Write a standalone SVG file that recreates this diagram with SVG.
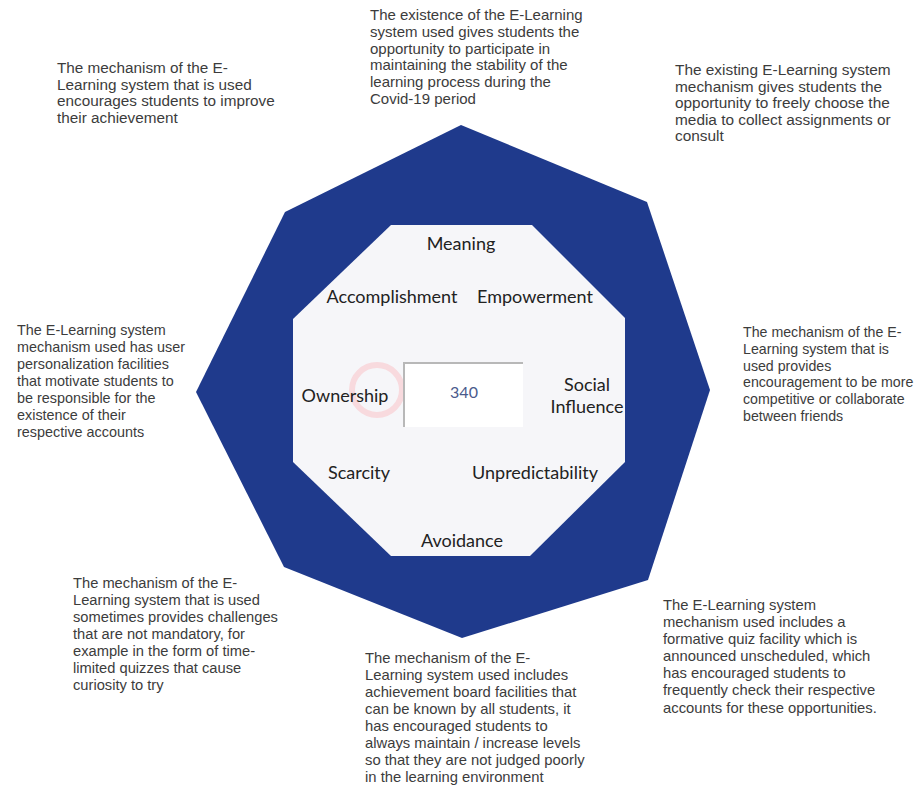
<svg xmlns="http://www.w3.org/2000/svg" width="919" height="786" viewBox="0 0 919 786">
<style>
.note{font-family:"Liberation Sans",Arial,sans-serif;font-size:15px;fill:#3c3c3c}
.lbl{font-family:Lato,"Open Sans",sans-serif;font-size:18px;fill:#222;text-anchor:middle}
.num{font-family:Lato,"Open Sans",sans-serif;font-size:16px;fill:#4a5a8c;text-anchor:middle}
</style>
<rect width="919" height="786" fill="#ffffff"/>
<g id="octagon-outer">
<polygon points="461,125 647,202 710,390 648,580 462,638 284,567 196,392 285,212" fill="#1f3a8c"/>
</g>
<g id="octagon-inner">
<polygon points="391,225 532,225 625,318 625,462 530,556 391,556 293,462 293,319" fill="#f6f6f9"/>
<circle cx="377" cy="390" r="25" fill="none" stroke="#f8dade" stroke-width="6"/>
</g>
<g id="labels">
<text class="lbl" x="461" y="250">Meaning</text>
<text class="lbl" x="392" y="303">Accomplishment</text>
<text class="lbl" x="535" y="303">Empowerment</text>
<text class="lbl" x="345" y="402">Ownership</text>
<text class="lbl" x="587" y="391">Social</text>
<text class="lbl" x="587" y="413">Influence</text>
<text class="lbl" x="359" y="479">Scarcity</text>
<text class="lbl" x="535" y="479">Unpredictability</text>
<text class="lbl" x="462" y="547">Avoidance</text>
</g>
<g id="center-box">
<rect x="403" y="362" width="120" height="65" fill="#ffffff"/>
<path d="M404,427 V363 H523" fill="none" stroke="#b8b8b8" stroke-width="2"/>
<text class="num" x="464" y="398">340</text>
</g>
<g id="note-top-left" style="font-size:15.3px">
<text class="note" x="57" y="73" style="font-size:15.3px">The mechanism of the E-</text>
<text class="note" x="57" y="89.5" style="font-size:15.3px">Learning system that is used</text>
<text class="note" x="57" y="106" style="font-size:15.3px">encourages students to improve</text>
<text class="note" x="57" y="122.5" style="font-size:15.3px">their achievement</text>
</g>
<g id="note-top-center">
<text class="note" x="370" y="20">The existence of the E-Learning</text>
<text class="note" x="370" y="36.8">system used gives students the</text>
<text class="note" x="370" y="53.6">opportunity to participate in</text>
<text class="note" x="370" y="70.4">maintaining the stability of the</text>
<text class="note" x="370" y="87.2">learning process during the</text>
<text class="note" x="370" y="104">Covid-19 period</text>
</g>
<g id="note-top-right">
<text class="note" x="675" y="75" style="font-size:15.4px">The existing E-Learning system</text>
<text class="note" x="675" y="91.5" style="font-size:15.4px">mechanism gives students the</text>
<text class="note" x="675" y="108" style="font-size:15.4px">opportunity to freely choose the</text>
<text class="note" x="675" y="124.5" style="font-size:15.4px">media to collect assignments or</text>
<text class="note" x="675" y="141" style="font-size:15.4px">consult</text>
</g>
<g id="note-left">
<text class="note" x="17" y="335" style="font-size:14.4px">The E-Learning system</text>
<text class="note" x="17" y="352" style="font-size:14.4px">mechanism used has user</text>
<text class="note" x="17" y="369" style="font-size:14.4px">personalization facilities</text>
<text class="note" x="17" y="386" style="font-size:14.4px">that motivate students to</text>
<text class="note" x="17" y="403" style="font-size:14.4px">be responsible for the</text>
<text class="note" x="17" y="420" style="font-size:14.4px">existence of their</text>
<text class="note" x="17" y="437" style="font-size:14.4px">respective accounts</text>
</g>
<g id="note-right">
<text class="note" x="743" y="337" style="font-size:14.2px">The mechanism of the E-</text>
<text class="note" x="743" y="354" style="font-size:14.2px">Learning system that is</text>
<text class="note" x="743" y="370.5" style="font-size:14.2px">used provides</text>
<text class="note" x="743" y="387" style="font-size:14.2px">encouragement to be more</text>
<text class="note" x="743" y="404" style="font-size:14.2px">competitive or collaborate</text>
<text class="note" x="743" y="421" style="font-size:14.2px">between friends</text>
</g>
<g id="note-bottom-left">
<text class="note" x="73" y="588" style="font-size:14.7px">The mechanism of the E-</text>
<text class="note" x="73" y="605" style="font-size:14.7px">Learning system that is used</text>
<text class="note" x="73" y="622" style="font-size:14.7px">sometimes provides challenges</text>
<text class="note" x="73" y="639" style="font-size:14.7px">that are not mandatory, for</text>
<text class="note" x="73" y="656" style="font-size:14.7px">example in the form of time-</text>
<text class="note" x="73" y="673" style="font-size:14.7px">limited quizzes that cause</text>
<text class="note" x="73" y="690" style="font-size:14.7px">curiosity to try</text>
</g>
<g id="note-bottom-center">
<text class="note" x="365" y="663" style="font-size:14.8px">The mechanism of the E-</text>
<text class="note" x="365" y="680" style="font-size:14.8px">Learning system used includes</text>
<text class="note" x="365" y="697" style="font-size:14.8px">achievement board facilities that</text>
<text class="note" x="365" y="714" style="font-size:14.8px">can be known by all students, it</text>
<text class="note" x="365" y="731" style="font-size:14.8px">has encouraged students to</text>
<text class="note" x="365" y="748" style="font-size:14.8px">always maintain / increase levels</text>
<text class="note" x="365" y="765" style="font-size:14.8px">so that they are not judged poorly</text>
<text class="note" x="365" y="782" style="font-size:14.8px">in the learning environment</text>
</g>
<g id="note-bottom-right">
<text class="note" x="663" y="610" style="font-size:14.8px">The E-Learning system</text>
<text class="note" x="663" y="627" style="font-size:14.8px">mechanism used includes a</text>
<text class="note" x="663" y="644" style="font-size:14.8px">formative quiz facility which is</text>
<text class="note" x="663" y="661" style="font-size:14.8px">announced unscheduled, which</text>
<text class="note" x="663" y="678" style="font-size:14.8px">has encouraged students to</text>
<text class="note" x="663" y="695" style="font-size:14.8px">frequently check their respective</text>
<text class="note" x="663" y="713" style="font-size:14.8px">accounts for these opportunities.</text>
</g>
</svg>
